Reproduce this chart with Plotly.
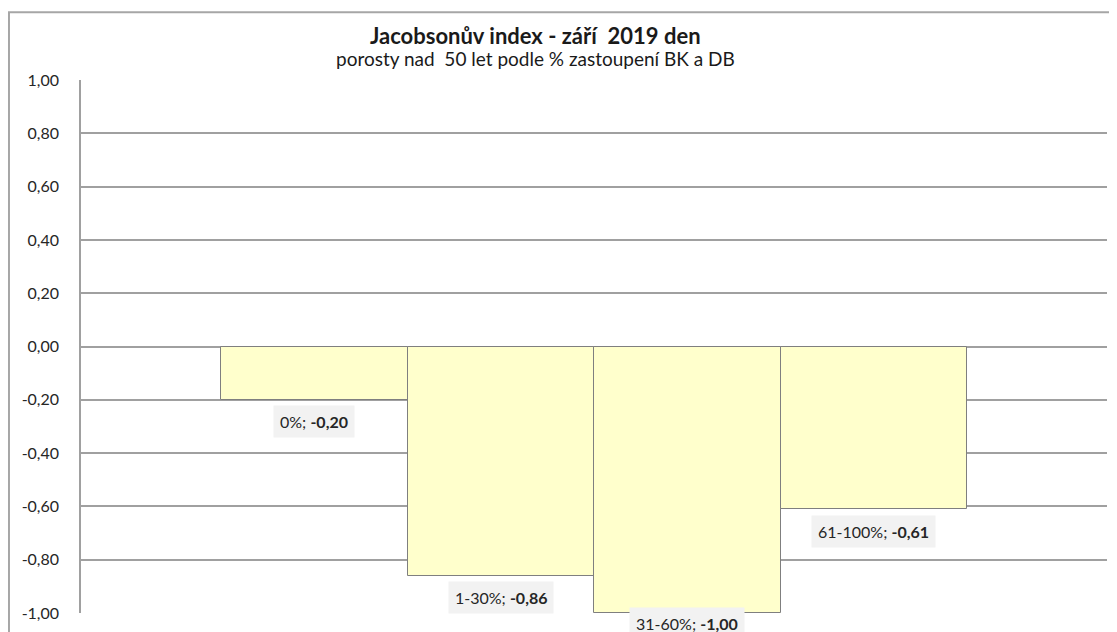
import plotly.graph_objects as go

# Jacobson index by share of beech (BK) and oak (DB), stands over 50 years
categories = ['0%', '1-30%', '31-60%', '61-100%']
values = [-0.20, -0.86, -1.00, -0.61]

tick_vals = [1.0, 0.8, 0.6, 0.4, 0.2, 0.0, -0.2, -0.4, -0.6, -0.8, -1.0]
tick_text = ['1,00', '0,80', '0,60', '0,40', '0,20', '0,00',
             '-0,20', '-0,40', '-0,60', '-0,80', '-1,00']

font_family = 'Lato, Open Sans, sans-serif'

fig = go.Figure()

fig.add_trace(go.Bar(
    x=categories,
    y=values,
    marker=dict(color='#FFFFCC', line=dict(color='#7f7f7f', width=1)),
    hoverinfo='skip',
    showlegend=False
))

# data labels like "0%; -0,20" with value in bold
# (the label of the lowest bar sits closer, as in the original)
label_shifts = [-22, -22, -10, -22]
for cat, val, shift in zip(categories, values, label_shifts):
    fig.add_annotation(
        x=cat, y=val, xref='x', yref='y',
        text=f'{cat}; <b>{val:.2f}</b>'.replace('.', ','),
        showarrow=False,
        yshift=shift,
        bgcolor='#f2f2f2',
        borderpad=6,
        font=dict(family=font_family, size=16, color='#262626')
    )

# two-line title
fig.add_annotation(
    x=0.4425, y=1.112, xref='paper', yref='paper',
    text='<b>Jacobsonův index - září\u00a0 2019 den</b>',
    showarrow=False, font=dict(family=font_family, size=22, color='#1a1a1a')
)
fig.add_annotation(
    x=0.4425, y=1.066, xref='paper', yref='paper',
    text='porosty nad\u00a0 50 let podle % zastoupení BK a DB',
    showarrow=False, font=dict(family=font_family, size=19, color='#1a1a1a')
)

# outer chart frame (left and top edges)
fig.add_shape(
    type='path', xref='paper', yref='paper',
    path='M -0.0702 -0.2 L -0.0702 1.127 L 1.2 1.127',
    line=dict(color='#a6a6a6', width=2)
)

# the page has an 8px body margin, so the figure is shifted by 8px
fig.update_layout(
    width=1109, height=624,
    margin=dict(l=73, r=10, t=72, b=12),
    paper_bgcolor='white',
    plot_bgcolor='white',
    bargap=0,
    font=dict(family=font_family, size=16, color='#262626')
)

fig.update_xaxes(
    range=[-1.251, 4.25],
    showticklabels=False,
    showgrid=False,
    zeroline=False,
    showline=False
)

fig.update_yaxes(
    range=[-1, 1],
    tickvals=tick_vals,
    ticktext=tick_text,
    showgrid=True,
    gridcolor='#a0a0a0',
    gridwidth=1.5,
    zeroline=False,
    showline=True,
    linecolor='#a0a0a0',
    linewidth=1.5,
    ticks='',
    ticklabelstandoff=17,
    tickfont=dict(family=font_family, size=16, color='#262626')
)

fig.write_html('out.html')
